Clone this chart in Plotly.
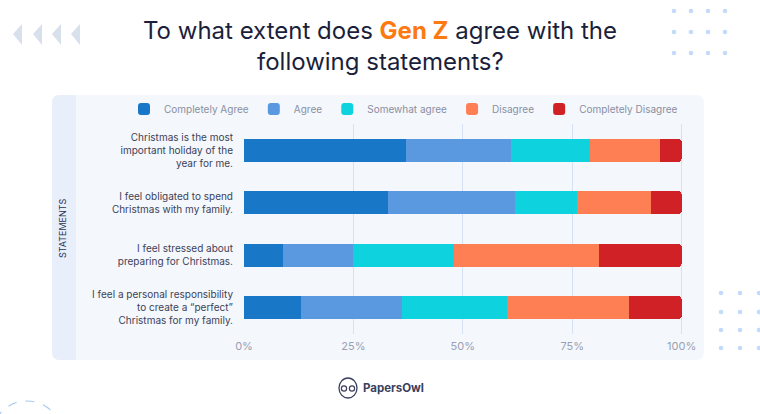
import plotly.graph_objects as go

# data (percent of respondents)
statements = [
    "Christmas is the most<br>important holiday of the<br>year for me.",
    "I feel obligated to spend<br>Christmas with my family.",
    "I feel stressed about<br>preparing for Christmas.",
    "I feel a personal responsibility<br>to create a \u201cperfect\u201d<br>Christmas for my family.",
]
completely_agree = [37, 33, 9, 13]
agree = [24, 29, 16, 23]
somewhat_agree = [18, 14, 23, 24]
disagree = [16, 17, 33, 28]
completely_disagree = [5, 7, 19, 12]

series_names = ["Completely Agree", "Agree", "Somewhat agree", "Disagree", "Completely Disagree"]
series_values = [completely_agree, agree, somewhat_agree, disagree, completely_disagree]
series_colors = ["#1877c6", "#5a98e0", "#0ed2de", "#ff7f55", "#d02126"]

x_ticks = [0, 25, 50, 75, 100]
x_tick_labels = ["0%", "25%", "50%", "75%", "100%"]

# canvas / plot area in pixels
W, H = 760, 414
L, R, T, B = 244, 77, 124, 80
PW = W - L - R
PH = H - T - B


def px(x):
    return (x - L) / PW


def py(y):
    return (H - B - y) / PH


def rounded_rect(x0, y0, x1, y1, r, left=True, right=True):
    # path in paper coords from pixel box
    a, b, c, d = px(x0), py(y0), px(x1), py(y1)
    rx, ry = r / PW, r / PH
    p = []
    if left:
        p.append(f"M{a + rx},{b}")
    else:
        p.append(f"M{a},{b}")
    if right:
        p.append(f"L{c - rx},{b} Q{c},{b} {c},{b - ry} L{c},{d + ry} Q{c},{d} {c - rx},{d}")
    else:
        p.append(f"L{c},{b} L{c},{d}")
    if left:
        p.append(f"L{a + rx},{d} Q{a},{d} {a},{d + ry} L{a},{b - ry} Q{a},{b} {a + rx},{b} Z")
    else:
        p.append(f"L{a},{d} Z")
    return " ".join(p)


fig = go.Figure()
for name, vals, col in zip(series_names, series_values, series_colors):
    fig.add_trace(go.Bar(
        y=statements, x=vals, name=name, orientation="h",
        marker=dict(color=col, line=dict(width=0)),
        hovertemplate="%{x}%<extra>" + name + "</extra>",
    ))

shapes = []
# panel
shapes.append(dict(type="path", xref="paper", yref="paper", layer="below",
                   path=rounded_rect(52, 95, 704, 360, 8),
                   fillcolor="#f4f7fc", line=dict(width=0)))
shapes.append(dict(type="path", xref="paper", yref="paper", layer="below",
                   path=rounded_rect(52, 95, 76, 360, 8, right=False),
                   fillcolor="#e8effa", line=dict(width=0)))

# decorative dots top right and bottom right
for cx in [674, 691, 708, 725]:
    for cy in [11, 32, 53]:
        shapes.append(dict(type="circle", xref="paper", yref="paper",
                           x0=px(cx - 2.3), x1=px(cx + 2.3), y0=py(cy + 2.3), y1=py(cy - 2.3),
                           fillcolor="#c3dbfb", line=dict(width=0)))
for cx in [721, 740, 759]:
    for cy in [293, 312, 330, 348]:
        shapes.append(dict(type="circle", xref="paper", yref="paper",
                           x0=px(cx - 2.3), x1=px(cx + 2.3), y0=py(cy + 2.3), y1=py(cy - 2.3),
                           fillcolor="#c3dbfb", line=dict(width=0)))

# chevrons top left
for x0 in [13, 33, 52, 71]:
    shapes.append(dict(type="path", xref="paper", yref="paper",
                       path=f"M{px(x0)},{py(34)} L{px(x0 + 9)},{py(24)} L{px(x0 + 9)},{py(45)} Z",
                       fillcolor="#d8e0ec", line=dict(width=0)))

# dashed arc bottom left
shapes.append(dict(type="circle", xref="paper", yref="paper",
                   x0=px(-8), x1=px(62), y0=py(470), y1=py(401),
                   line=dict(color="#a9c9f2", width=1.2, dash="dash")))

# owl logo
shapes.append(dict(type="circle", xref="paper", yref="paper",
                   x0=px(339), x1=px(357), y0=py(398), y1=py(378),
                   line=dict(color="#3b405c", width=1.3)))
for ex in [344, 352]:
    shapes.append(dict(type="circle", xref="paper", yref="paper",
                       x0=px(ex - 2.6), x1=px(ex + 2.6), y0=py(388.5 + 2.6), y1=py(388.5 - 2.6),
                       line=dict(color="#3b405c", width=1.2)))

title_font = dict(size=24, color="#1b1f3b", family="Inter, sans-serif")
annotations = [
    dict(text="To what extent does <b><span style='color:#fd7a12'>Gen Z</span></b> agree with the",
         xref="paper", yref="paper", x=px(380), y=py(30), xanchor="center", yanchor="middle",
         showarrow=False, font=title_font),
    dict(text="following statements?",
         xref="paper", yref="paper", x=px(380), y=py(62), xanchor="center", yanchor="middle",
         showarrow=False, font=title_font),
    dict(text="STATEMENTS", textangle=-90, xref="paper", yref="paper",
         x=px(62), y=py(228), showarrow=False, xanchor="center", yanchor="middle",
         font=dict(size=9, color="#2c3150", family="Inter, sans-serif")),
    dict(text="<b>PapersOwl</b>", xref="paper", yref="paper",
         x=px(361), y=py(388), xanchor="left", yanchor="middle", showarrow=False,
         font=dict(size=11.5, color="#3b405c", family="Inter, sans-serif")),
]

fig.update_layout(
    width=W, height=H,
    margin=dict(l=L, r=R, t=T, b=B),
    paper_bgcolor="white",
    plot_bgcolor="rgba(0,0,0,0)",
    barmode="stack",
    bargap=0.56,
    barcornerradius=4,
    font=dict(family="Inter, sans-serif"),
    legend=dict(
        orientation="h", x=px(124), xanchor="left", y=py(109), yanchor="middle",
        font=dict(size=10, color="#8a8fa3"), bgcolor="rgba(0,0,0,0)",
        traceorder="normal",
    ),
    xaxis=dict(
        range=[0, 100.3], tickvals=x_ticks, ticktext=x_tick_labels,
        showgrid=True, gridcolor="#d5e2f5", gridwidth=1, zeroline=False,
        tickfont=dict(size=11, color="#9aa0b2"), ticks="", ticklabelstandoff=4,
        fixedrange=True,
    ),
    yaxis=dict(
        autorange="reversed", showgrid=False, zeroline=False,
        tickfont=dict(size=10, color="#3c4258"), ticklabelstandoff=10,
        fixedrange=True,
    ),
    shapes=shapes,
    annotations=annotations,
)

fig.write_html("out.html", config={"displayModeBar": False},
               post_script="document.body.style.margin='0';")
